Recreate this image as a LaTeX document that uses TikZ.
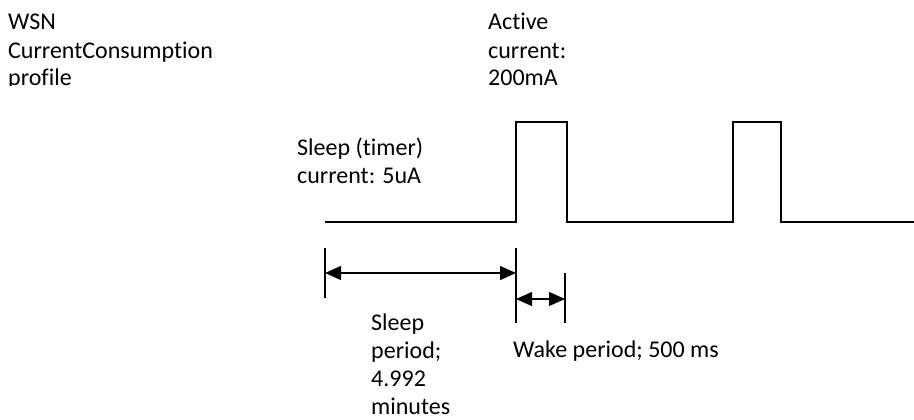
\documentclass[tikz,border=0pt]{standalone}
\usepackage{fontspec}
\setmainfont{Carlito}[Ligatures=NoCommon]
\usetikzlibrary{positioning, arrows.meta}

\begin{document}
\begin{tikzpicture}[
    x=1pt, y=-1pt,
    txt/.style={font=\fontsize{24}{28}\selectfont, inner sep=0pt, anchor=base west, align=left},
    signal/.style={line width=2pt},
    tickmark/.style={line width=1.8pt},
    dim/.style={line width=1.3pt, {Triangle[length=16pt,width=14pt]}-{Triangle[length=16pt,width=14pt]}},
  ]
  \useasboundingbox (0,0) rectangle (914,420);

  % titles (cut off at the bottom)
  \begin{scope}
    \clip (0,0) rectangle (914,86);
    \node[txt] (title) at (8,86) {WSN\\CurrentConsumption\\profile};
    \node[txt] (active) at (488,86) {Active\\current:\\200mA};
  \end{scope}

  % current profile
  \draw[signal] (325,222) -- (516,222) -- (516,122) -- (567,122) -- (567,222)
    -- (733,222) -- (733,122) -- (781,122) -- (781,222) -- (914,222);

  \node[txt] (sleepcur) at (297,183) {Sleep (timer)\\current: 5uA};

  % dimension marks
  \coordinate (s0) at (325,273);
  \coordinate (s1) at (516,273);
  \coordinate (w0) at (516,299);
  \coordinate (w1) at (565,299);
  \draw[tickmark] (325,248) -- (325,298);
  \draw[tickmark] (516,248) -- (516,323);
  \draw[tickmark] (565,273) -- (565,323);
  \draw[dim] (s0) -- (s1);
  \draw[dim] (w0) -- (w1);

  \node[txt] (sleepper) at (371,414) {Sleep\\period;\\4.992\\minutes};
  \node[txt] (wakeper) at (513,357) {Wake period; 500 ms};
\end{tikzpicture}
\end{document}
